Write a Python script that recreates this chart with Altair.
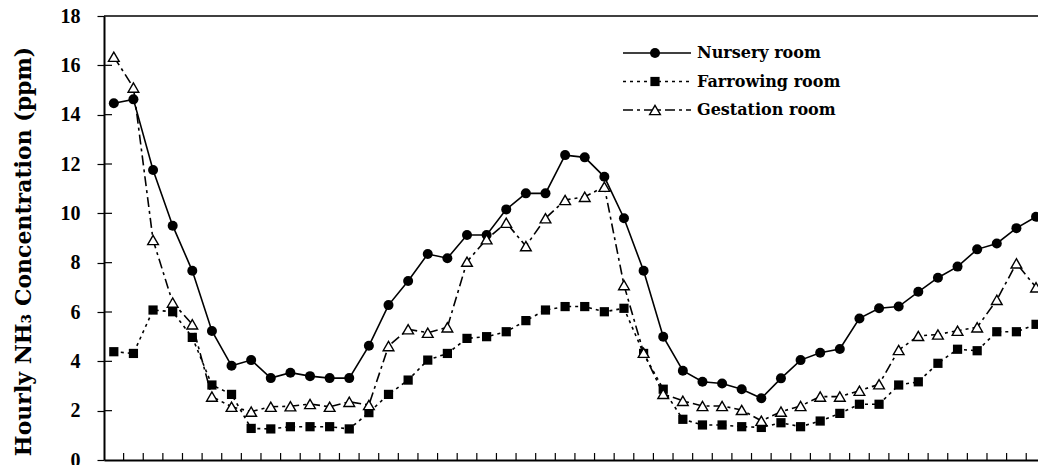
import altair as alt
import pandas as pd

# ---------------- data ----------------
hours = list(range(48))

nursery = [14.46, 14.62, 11.76, 9.50, 7.67, 5.23, 3.82, 4.05, 3.32, 3.54,
           3.40, 3.32, 3.32, 4.63, 6.28, 7.26, 8.35, 8.18, 9.12, 9.12,
           10.16, 10.81, 10.81, 12.36, 12.27, 11.48, 9.80, 7.67, 5.00, 3.62,
           3.17, 3.10, 2.87, 2.50, 3.31, 4.05, 4.35, 4.50, 5.74, 6.15,
           6.22, 6.82, 7.39, 7.84, 8.54, 8.78, 9.40, 9.86]

farrowing = [4.39, 4.32, 6.08, 6.01, 4.97, 3.04, 2.66, 1.28, 1.26, 1.35,
             1.35, 1.35, 1.26, 1.92, 2.66, 3.24, 4.05, 4.32, 4.93, 5.00,
             5.20, 5.65, 6.08, 6.22, 6.22, 6.01, 6.15, 4.32, 2.87, 1.65,
             1.42, 1.42, 1.35, 1.32, 1.51, 1.35, 1.58, 1.89, 2.26, 2.26,
             3.04, 3.17, 3.92, 4.49, 4.43, 5.20, 5.20, 5.50]

gestation = [16.35, 15.10, 8.92, 6.38, 5.50, 2.57, 2.16, 1.96, 2.16, 2.18,
             2.27, 2.16, 2.36, 2.23, 4.62, 5.30, 5.16, 5.38, 8.04, 8.95,
             9.62, 8.67, 9.80, 10.54, 10.67, 11.08, 7.09, 4.35, 2.68, 2.40,
             2.19, 2.19, 2.03, 1.59, 1.96, 2.19, 2.57, 2.57, 2.81, 3.07,
             4.46, 5.03, 5.09, 5.24, 5.38, 6.49, 7.97, 7.00]

series_names = ["Nursery room", "Farrowing room", "Gestation room"]
y_tick_values = [0, 2, 4, 6, 8, 10, 12, 14, 16, 18]
x_tick_marks = list(range(1, 48))          # category boundaries
y_title = "Hourly NH\u2083 Concentration (ppm)"

# ---------------- layout / style ----------------
W, H = 934, 444
SERIF = "Liberation Serif"
WIDE_SERIF = "DejaVu Serif"

x_scale = alt.Scale(domain=[0, 47.6], nice=False, zero=False)
y_scale = alt.Scale(domain=[0, 18], nice=False, zero=True)

x_axis = alt.Axis(title=None, labels=False, ticks=False, grid=False,
                  domain=True, domainColor="black", domainWidth=2)
y_axis = alt.Axis(values=y_tick_values, grid=False, domain=True,
                  domainColor="black", domainWidth=2,
                  ticks=True, tickSize=7, tickColor="black", tickWidth=1.2,
                  labelFont=SERIF, labelFontSize=20, labelFontWeight="bold",
                  labelColor="black", labelPadding=17,
                  title=y_title, titleFont=WIDE_SERIF, titleFontSize=22,
                  titleFontWeight="bold", titleColor="black",
                  titleAngle=270, titleAlign="center", titleBaseline="middle",
                  titleX=-81, titleY=235)

X = alt.X("pos:Q", scale=x_scale, axis=x_axis)
Y = alt.Y("ppm:Q", scale=y_scale, axis=y_axis)


def frame(vals):
    return pd.DataFrame({"pos": [h + 0.5 for h in hours], "ppm": vals})


styles = [
    dict(vals=nursery, dash=None, shape="circle", size=100, fill="black"),
    dict(vals=farrowing, dash=[3, 4], shape="square", size=85, fill="black"),
    dict(vals=gestation, dash=[10, 4, 3, 4], shape="triangle-up", size=115, fill="white"),
]

layers = []

# inward ticks on the x axis (category boundaries)
layers.append(
    alt.Chart(pd.DataFrame({"pos": x_tick_marks}))
    .mark_rule(color="black", strokeWidth=1.2)
    .encode(x=X, y=alt.value(H - 7), y2=alt.value(H))
)
# inward half of the crossing y ticks
layers.append(
    alt.Chart(pd.DataFrame({"ppm": y_tick_values[1:-1]}))
    .mark_rule(color="black", strokeWidth=1.2)
    .encode(y=Y, x=alt.value(0), x2=alt.value(8))
)
# top border
layers.append(
    alt.Chart(pd.DataFrame({"k": [0]}))
    .mark_rule(color="black", strokeWidth=1.5)
    .encode(x=alt.value(0), x2=alt.value(W), y=alt.value(0))
)

for st in styles:
    df = frame(st["vals"])
    line_kw = dict(color="black", strokeWidth=1.6)
    if st["dash"]:
        line_kw["strokeDash"] = st["dash"]
    layers.append(alt.Chart(df).mark_line(**line_kw).encode(x=X, y=Y))
    if st["fill"] == "white":
        pt = alt.Chart(df).mark_point(shape=st["shape"], size=st["size"], filled=True,
                                      fill="white", stroke="black", strokeWidth=1.4,
                                      opacity=1)
    else:
        pt = alt.Chart(df).mark_point(shape=st["shape"], size=st["size"], filled=True,
                                      color="black", opacity=1)
    layers.append(pt.encode(x=X, y=Y))

# legend (drawn by hand: line - marker - line, then label)
one = pd.DataFrame({"k": [0]})
for i, (name, st) in enumerate(zip(series_names, styles)):
    ry = 37 + 28.5 * i
    line_kw = dict(color="black", strokeWidth=1.6)
    if st["dash"]:
        line_kw["strokeDash"] = st["dash"]
    layers.append(alt.Chart(one).mark_rule(**line_kw)
                  .encode(x=alt.value(519), x2=alt.value(587), y=alt.value(ry)))
    if st["fill"] == "white":
        m = alt.Chart(one).mark_point(shape=st["shape"], size=st["size"], filled=True,
                                      fill="white", stroke="black", strokeWidth=1.4, opacity=1)
    else:
        m = alt.Chart(one).mark_point(shape=st["shape"], size=st["size"], filled=True,
                                      color="black", opacity=1)
    layers.append(m.encode(x=alt.value(551), y=alt.value(ry)))
    layers.append(alt.Chart(one).mark_text(align="left", baseline="middle",
                                           font=WIDE_SERIF, fontSize=16,
                                           fontWeight="bold", color="black")
                  .encode(x=alt.value(593), y=alt.value(ry), text=alt.value(name)))

chart = (
    alt.layer(*layers)
    .properties(width=W, height=H,
                padding={"left": 104, "top": 16, "right": 0, "bottom": 5},
                autosize=alt.AutoSizeParams(type="none"),
                background="white")
    .configure_view(stroke=None)
)

chart.save("out.html", embed_options={"renderer": "svg", "actions": False})
